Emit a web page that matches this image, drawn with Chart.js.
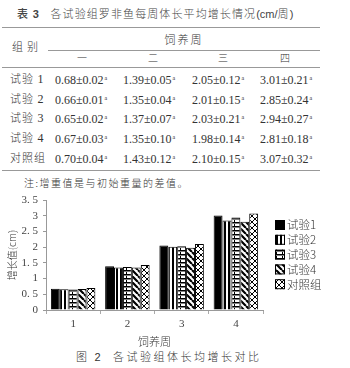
<!DOCTYPE html>
<html><head><meta charset="utf-8">
<script src="https://cdn.jsdelivr.net/npm/chart.js@4.4.1/dist/chart.umd.min.js"></script>
<style>
body{margin:0;width:350px;height:368px;background:#fff;position:relative;overflow:hidden;font-family:"Liberation Serif","Noto Sans CJK SC",serif;color:#333}
.t{position:absolute;white-space:nowrap;line-height:14px;height:14px;transform:translateY(-7px)}
.c{transform:translate(-50%,-7px)}
.hl{position:absolute;height:1px;background:#999}
.cjk{font-family:"Noto Sans CJK SC",sans-serif;font-weight:300}
.num{font-size:12px;font-family:"Liberation Serif",serif}
sup{font-size:6px;vertical-align:4px;margin-left:1px}
#wrap{position:absolute;left:0;top:186px;width:350px;height:164px}
</style></head>
<body>
<div id="tbl"></div>
<div id="wrap"><canvas id="c" width="350" height="164"></canvas></div>
<script>
// ---- data ----
const weekHeaders = ['一','二','三','四'];
const weekLabels = ['1','2','3','4'];
const groupRowLabels = ['试验 1','试验 2','试验 3','试验 4','对照组'];
const seriesNames = ['试验1','试验2','试验3','试验4','对照组'];
const trial1 = [0.68, 1.39, 2.05, 3.01];
const trial2 = [0.66, 1.35, 2.01, 2.85];
const trial3 = [0.65, 1.37, 2.03, 2.94];
const trial4 = [0.67, 1.35, 1.98, 2.81];
const control = [0.70, 1.43, 2.10, 3.07];
const trial1Sd = ['0.02','0.05','0.12','0.21'];
const trial2Sd = ['0.01','0.04','0.15','0.24'];
const trial3Sd = ['0.02','0.07','0.21','0.27'];
const trial4Sd = ['0.03','0.10','0.14','0.18'];
const controlSd = ['0.04','0.12','0.15','0.32'];
const yTickLabels = ['0','0. 5','1','1. 5','2','2. 5','3','3. 5'];

const seriesValues = [trial1, trial2, trial3, trial4, control];
const seriesSd = [trial1Sd, trial2Sd, trial3Sd, trial4Sd, controlSd];

// ---- table (HTML) ----
const tbl = document.getElementById('tbl');
let h = '';
h += '<div class="t cjk" style="left:17px;top:13px;font-size:11px;letter-spacing:1.1px;color:#444"><span style="font-weight:500">表</span> <span style="font-family:Liberation Sans;font-weight:bold;font-size:11px">3</span>&nbsp;&nbsp;&nbsp;各试验组罗非鱼每周体长平均增长情况<span style="font-family:Liberation Sans;letter-spacing:0">(cm/</span>周<span style="font-family:Liberation Sans">)</span></div>';
h += '<div class="hl" style="left:2px;top:27px;width:318px"></div>';
h += '<div class="t c cjk" style="left:184px;top:39px;font-size:11px;letter-spacing:2px">饲养周</div>';
h += '<div class="t cjk" style="left:12px;top:46px;font-size:11px;letter-spacing:4px">组别</div>';
h += '<div class="hl" style="left:48px;top:50px;width:272px"></div>';
const hx = [82,153,223,285];
weekHeaders.forEach((w,i)=>{ h += '<div class="t c cjk" style="left:'+hx[i]+'px;top:58px;font-size:10px">'+w+'</div>'; });
h += '<div class="hl" style="left:2px;top:67px;width:318px"></div>';
const cx = [55,123,192,260];
groupRowLabels.forEach((g,r)=>{
  const y = 78 + r*19.7;
  const lbl = g.replace(/(\d)/,'<span class="num" style="font-size:12px">$1</span>');
  h += '<div class="t cjk" style="left:10px;top:'+y+'px;font-size:11px;letter-spacing:1px">'+lbl+'</div>';
  seriesValues[r].forEach((v,i)=>{
    h += '<div class="t num" style="left:'+cx[i]+'px;top:'+y+'px">'+v.toFixed(2)+'±'+seriesSd[r][i]+'<sup>a</sup></div>';
  });
});
h += '<div class="hl" style="left:2px;top:170px;width:318px"></div>';
h += '<div class="t cjk" style="left:24px;top:183px;font-size:10px;letter-spacing:1.5px">注:增重值是与初始重量的差值。</div>';
h += '<div class="t cjk" style="left:76px;top:356px;font-size:11px;letter-spacing:2.5px">图 <span style="font-family:Liberation Sans">2</span>&nbsp;&nbsp;各试验组体长均增长对比</div>';
tbl.innerHTML = h;

// ---- patterns ----
function pat(w, hgt, draw){
  const c = document.createElement('canvas'); c.width=w; c.height=hgt;
  const x = c.getContext('2d'); x.fillStyle='#fff'; x.fillRect(0,0,w,hgt);
  x.fillStyle='#000'; x.strokeStyle='#000'; draw(x);
  return x.createPattern(c,'repeat');
}
const fills = [
  '#000',
  pat(4,4,x=>{x.fillRect(0,0,2,4);}),
  pat(6,4,x=>{x.fillRect(0,0,6,1.5);x.fillRect(0,2,1,2);}),
  pat(6,6,x=>{x.lineWidth=2.2;x.beginPath();for(let k=-6;k<=12;k+=6){x.moveTo(k,0);x.lineTo(k+6,6);}x.stroke();}),
  pat(6,6,x=>{x.lineWidth=1;x.beginPath();x.moveTo(0,0);x.lineTo(6,6);x.moveTo(6,0);x.lineTo(0,6);x.stroke();})
];

const legendPlugin = {
  id:'sideLegend',
  afterDraw(chart){
    const ctx = chart.ctx, a = chart.chartArea;
    ctx.save();
    chart.data.datasets.forEach((ds,i)=>{
      const x = a.right + 12, y = a.top + 25 + i*14.8;
      ctx.fillStyle = ds.backgroundColor; ctx.fillRect(x, y-5, 10, 10);
      ctx.strokeStyle = '#000'; ctx.lineWidth = 1; ctx.strokeRect(x+0.5, y-4.5, 9, 9);
      ctx.fillStyle = '#333'; ctx.font = '300 11.5px "Noto Sans CJK SC"'; ctx.textBaseline='middle';
      ctx.fillText(ds.label, x+12, y);
    });
    ctx.restore();
  }
};

new Chart(document.getElementById('c'), {
  type:'bar',
  data:{
    labels: weekLabels,
    datasets: seriesNames.map((n,i)=>({label:n, data:seriesValues[i], backgroundColor:fills[i], borderColor:'#000', borderWidth:1, barPercentage:1, categoryPercentage:0.82}))
  },
  options:{
    responsive:false, animation:false,
    layout:{padding:{top:14,right:87,left:0,bottom:0}},
    plugins:{legend:{display:false},tooltip:{enabled:false}},
    scales:{
      x:{
        grid:{drawOnChartArea:false, tickLength:4, color:'#aaa', offset:true},
        border:{color:'#999'},
        ticks:{font:{family:'Liberation Serif',size:11},color:'#444',padding:4},
        title:{display:true,text:'饲养周',font:{family:'Noto Sans CJK SC',size:11,weight:300},color:'#333',padding:{top:0,bottom:2}},
        afterFit(s){s.height=40;}
      },
      y:{
        min:0,max:3.5,
        grid:{drawOnChartArea:false, tickLength:3, color:'#999'},
        border:{color:'#999'},
        ticks:{stepSize:0.5,autoSkip:false,font:{family:'Liberation Serif',size:11},color:'#444',padding:5,
          callback:(v,i)=>yTickLabels[i]},
        title:{display:true,text:'增长值(cm)',font:{family:'Noto Sans CJK SC',size:10,weight:300},color:'#333',padding:{top:6,bottom:0}},
        afterFit(s){s.width=46;}
      }
    }
  },
  plugins:[legendPlugin]
});
</script>
</body></html>
